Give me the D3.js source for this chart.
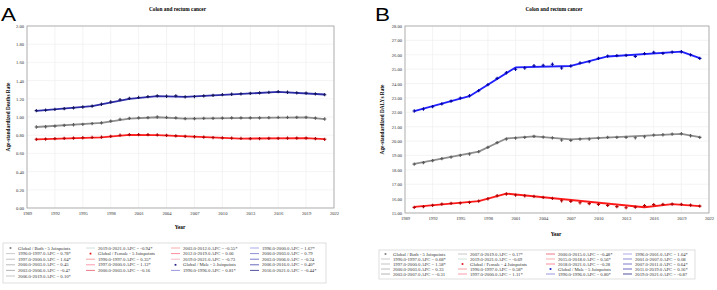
<!DOCTYPE html>
<html>
<head>
<meta charset="utf-8">
<script src="https://cdn.jsdelivr.net/npm/d3@7"></script>
<style>
  body { margin: 0; background: #fff; }
  svg { display: block; }
</style>
</head>
<body>
<div class="chart"></div>
<script>
// years of observation
var years = d3.range(1990, 2022);
var xTickYears = [1989, 1992, 1995, 1998, 2001, 2004, 2007, 2010, 2013, 2016, 2019, 2022];

// Panel A: age-standardized deaths rate (observed)
var deathBoth = [0.890, 0.893, 0.900, 0.908, 0.915, 0.920, 0.928, 0.935, 0.955, 0.975, 0.985, 0.990,
  0.993, 1.000, 0.995, 0.990, 0.982, 0.982, 0.985, 0.985, 0.988, 0.990, 0.990, 0.990, 0.990, 0.992,
  0.995, 0.995, 0.996, 0.997, 0.988, 0.978];
var deathFemale = [0.755, 0.758, 0.762, 0.765, 0.768, 0.772, 0.775, 0.778, 0.788, 0.800, 0.806, 0.807,
  0.806, 0.803, 0.798, 0.793, 0.788, 0.783, 0.778, 0.774, 0.770, 0.767, 0.764, 0.762, 0.763, 0.765,
  0.766, 0.767, 0.768, 0.768, 0.762, 0.755];
var deathMale = [1.070, 1.075, 1.083, 1.092, 1.100, 1.110, 1.120, 1.140, 1.165, 1.190, 1.205, 1.215,
  1.225, 1.232, 1.228, 1.232, 1.222, 1.225, 1.232, 1.238, 1.245, 1.250, 1.255, 1.260, 1.265, 1.270,
  1.278, 1.272, 1.266, 1.262, 1.255, 1.245];

// Panel A: joinpoint fits
var deathBothJpYears = [1990, 1997, 2000, 2003, 2006, 2019, 2021];
var deathBothJpFit = [0.890, 0.935, 0.983, 0.997, 0.983, 0.996, 0.977];
var deathFemaleJpYears = [1990, 1997, 2000, 2003, 2012, 2019, 2021];
var deathFemaleJpFit = [0.755, 0.776, 0.803, 0.800, 0.763, 0.767, 0.756];
var deathMaleJpYears = [1990, 1996, 2000, 2003, 2006, 2016, 2021];
var deathMaleJpFit = [1.068, 1.120, 1.200, 1.230, 1.222, 1.275, 1.247];

// Panel B: age-standardized DALYs rate (observed)
var dalyBoth = [18.40, 18.50, 18.64, 18.78, 18.89, 19.01, 19.10, 19.26, 19.56, 19.89, 20.14, 20.21,
  20.26, 20.33, 20.28, 20.23, 20.07, 20.05, 20.14, 20.14, 20.21, 20.26, 20.26, 20.26, 20.23, 20.30,
  20.42, 20.44, 20.49, 20.51, 20.37, 20.26];
var dalyFemale = [15.39, 15.44, 15.53, 15.62, 15.67, 15.69, 15.74, 15.83, 15.99, 16.20, 16.32, 16.25,
  16.20, 16.15, 16.08, 16.01, 15.85, 15.81, 15.71, 15.65, 15.60, 15.53, 15.44, 15.37, 15.41, 15.51,
  15.58, 15.60, 15.62, 15.60, 15.55, 15.48];
var dalyMale = [22.09, 22.23, 22.39, 22.58, 22.78, 22.99, 23.15, 23.50, 23.92, 24.36, 24.75, 24.99,
  25.08, 25.24, 25.27, 25.34, 25.08, 25.22, 25.43, 25.52, 25.75, 25.91, 25.94, 25.96, 25.89, 26.08,
  26.17, 26.10, 26.19, 26.21, 26.00, 25.75];

// Panel B: joinpoint fits
var dalyBothJpYears = [1990, 1997, 2000, 2003, 2007, 2019, 2021];
var dalyBothJpFit = [18.42, 19.27, 20.18, 20.32, 20.12, 20.50, 20.28];
var dalyFemaleJpYears = [1990, 1997, 2000, 2015, 2018, 2021];
var dalyFemaleJpFit = [15.42, 15.82, 16.35, 15.40, 15.62, 15.48];
var dalyMaleJpYears = [1990, 1996, 2001, 2007, 2011, 2019, 2021];
var dalyMaleJpFit = [22.08, 23.12, 25.12, 25.22, 25.88, 26.22, 25.76];

// legend texts
var deathLegend = [
  "Global / Both - 5 Joinpoints", "1990.0-1997.0 APC = 0.78*", "1997.0-2000.0 APC = 1.64*",
  "2000.0-2003.0 APC = 0.45", "2003.0-2006.0 APC = -0.47", "2006.0-2019.0 APC = 0.10*",
  "2019.0-2021.0 APC = -0.94*",
  "Global / Female - 5 Joinpoints", "1990.0-1997.0 APC = 0.35*", "1997.0-2000.0 APC = 1.12*",
  "2000.0-2003.0 APC = -0.16", "2003.0-2012.0 APC = -0.55*", "2012.0-2019.0 APC = 0.06",
  "2019.0-2021.0 APC = -0.73",
  "Global / Male - 5 Joinpoints", "1990.0-1996.0 APC = 0.81*", "1996.0-2000.0 APC = 1.67*",
  "2000.0-2003.0 APC = 0.79", "2003.0-2006.0 APC = -0.24", "2006.0-2016.0 APC = 0.40*",
  "2016.0-2021.0 APC = -0.44*"
];
var dalyLegend = [
  "Global / Both - 5 Joinpoints", "1990.0-1997.0 APC = 0.68*", "1997.0-2000.0 APC = 1.58*",
  "2000.0-2003.0 APC = 0.33", "2003.0-2007.0 APC = -0.31", "2007.0-2019.0 APC = 0.17*",
  "2019.0-2021.0 APC = -0.69",
  "Global / Female - 4 Joinpoints", "1990.0-1997.0 APC = 0.58*", "1997.0-2000.0 APC = 1.11*",
  "2000.0-2015.0 APC = -0.48*", "2015.0-2018.0 APC = 0.56*", "2018.0-2021.0 APC = -0.28",
  "Global / Male - 5 Joinpoints", "1990.0-1996.0 APC = 0.80*", "1996.0-2001.0 APC = 1.64*",
  "2001.0-2007.0 APC = 0.08", "2007.0-2011.0 APC = 0.64*", "2011.0-2019.0 APC = 0.16*",
  "2019.0-2021.0 APC = -0.87"
];

// segment shades for the legend (both, female, male)
var segShades = [
  ["#c4c4c4", "#bcbcbc", "#b4b4b4", "#ababab", "#c0c0c0", "#c8dcd6"],
  ["#f59a9a", "#ff8fa0", "#e86a78", "#f4a4a4", "#ff7f8f", "#f2b4bc"],
  ["#8d8dd8", "#a4a4e6", "#8282d0", "#6c6cc4", "#5858b4", "#3d3d94"]
];

var svg = d3.select(".chart").append("svg")
  .attr("width", 717)
  .attr("height", 290);

var serif = "'Liberation Serif', 'Times New Roman', serif";

function drawPanel(p) {
  var g = svg.append("g");

  var x = d3.scaleLinear().domain([1989, 2022]).range([p.left, p.right]);
  var y = d3.scaleLinear().domain(p.yDomain).range([p.bottom, p.top]);

  // grid
  g.selectAll(".vgrid").data(xTickYears).enter().append("line")
    .attr("x1", function(d) { return x(d); }).attr("x2", function(d) { return x(d); })
    .attr("y1", p.top).attr("y2", p.bottom)
    .style("stroke", "#ececec").style("stroke-width", 0.6);
  g.selectAll(".hgrid").data(p.yTicks).enter().append("line")
    .attr("x1", p.left).attr("x2", p.right)
    .attr("y1", function(d) { return y(d); }).attr("y2", function(d) { return y(d); })
    .style("stroke", "#ececec").style("stroke-width", 0.6);

  // axes
  var ax = g.append("g")
    .attr("transform", "translate(0," + p.bottom + ")")
    .call(d3.axisBottom(x).tickValues(xTickYears).tickFormat(d3.format("d")).tickSize(0).tickPadding(4));
  var ay = g.append("g")
    .attr("transform", "translate(" + p.left + ",0)")
    .call(d3.axisLeft(y).tickValues(p.yTicks).tickFormat(d3.format(".2f")).tickSize(0).tickPadding(3));
  [ax, ay].forEach(function(a) {
    a.select(".domain").remove();
    a.selectAll("text").style("font-family", serif).style("font-size", "4.6px").style("fill", "#333");
  });

  // frame
  g.append("rect")
    .attr("x", p.left).attr("y", p.top)
    .attr("width", p.right - p.left).attr("height", p.bottom - p.top)
    .style("fill", "none").style("stroke", "#a0a0a0").style("stroke-width", 0.8);

  // joinpoint lines + observed points
  var line = d3.line()
    .x(function(d) { return x(d[0]); })
    .y(function(d) { return y(d[1]); });

  p.series.forEach(function(s) {
    var fit = s.jpYears.map(function(yr, i) { return [yr, s.jpFit[i]]; });
    g.append("path")
      .datum(fit)
      .attr("d", line)
      .style("fill", "none")
      .style("stroke", s.color)
      .style("stroke-width", 1.8)
      .style("stroke-linejoin", "round");

    g.selectAll(null)
      .data(s.obs)
      .enter()
      .append("path")
      .attr("transform", function(d, i) { return "translate(" + x(years[i]) + "," + y(d) + ")"; })
      .attr("d", d3.symbol().type(d3.symbolCross).size(6))
      .style("fill", s.mark);
  });

  // title and axis labels
  svg.append("text")
    .attr("x", (p.left + p.right) / 2 - 3).attr("y", 11)
    .attr("text-anchor", "middle")
    .style("font-family", serif).style("font-size", "5.3px").style("font-weight", "bold")
    .text("Colon and rectum cancer");

  svg.append("text")
    .attr("transform", "translate(" + p.yLabelX + "," + ((p.top + p.bottom) / 2) + ") rotate(-90)")
    .attr("text-anchor", "middle")
    .style("font-family", serif).style("font-size", "5.3px").style("font-weight", "bold")
    .text(p.yLabel);

  svg.append("text")
    .attr("x", p.xLabelX).attr("y", p.xLabelY)
    .attr("text-anchor", "middle")
    .style("font-family", serif).style("font-size", "5.3px").style("font-weight", "bold")
    .text("Year");

  // panel tag, a bit wider than plain Arial
  svg.append("text")
    .attr("transform", "translate(" + p.tagX + ",21) scale(1.25,1)")
    .style("font-family", "'Liberation Sans', Arial, sans-serif").style("font-size", "18px")
    .text(p.tag);

  // legend
  var lg = p.legend;
  svg.append("rect")
    .attr("x", lg.box[0]).attr("y", lg.box[1])
    .attr("width", lg.box[2]).attr("height", lg.box[3])
    .style("fill", "#fff").style("stroke", "#d0d0d0").style("stroke-width", 0.7);

  // column / row of every legend item from the per-column counts
  var slots = [];
  lg.colCounts.forEach(function(n, c) {
    for (var r = 0; r < n; r++) slots.push([c, r]);
  });

  var sIdx = -1, segIdx = 0;
  lg.labels.forEach(function(t, i) {
    var cx = lg.cols[slots[i][0]], cy = lg.y0 + slots[i][1] * lg.step;
    if (t.indexOf("Global") === 0) {
      sIdx++; segIdx = 0;
      svg.append("path")
        .attr("transform", "translate(" + (cx + 4.5) + "," + cy + ")")
        .attr("d", d3.symbol().type(d3.symbolSquare).size(3))
        .style("fill", p.series[sIdx].legendMark);
    } else {
      svg.append("line")
        .attr("x1", cx).attr("x2", cx + 9)
        .attr("y1", cy).attr("y2", cy)
        .style("stroke", segShades[sIdx][segIdx])
        .style("stroke-width", 0.9);
      segIdx++;
    }
    svg.append("text")
      .attr("x", cx + 12).attr("y", cy)
      .attr("dy", "0.35em")
      .style("font-family", serif).style("font-size", "4.7px").style("fill", "#333")
      .text(t);
  });
}

drawPanel({
  tag: "A", tagX: 1,
  left: 27, right: 334, top: 26, bottom: 208,
  yDomain: [0, 2], yTicks: d3.range(0, 2.01, 0.2),
  yLabel: "Age-standardized Deaths Rate", yLabelX: 10,
  xLabelX: 180, xLabelY: 229,
  series: [
    { obs: deathBoth, jpYears: deathBothJpYears, jpFit: deathBothJpFit, color: "#8e8e8e", mark: "#5a5a5a", legendMark: "#777" },
    { obs: deathFemale, jpYears: deathFemaleJpYears, jpFit: deathFemaleJpFit, color: "#ff2020", mark: "#b00000", legendMark: "#e01010" },
    { obs: deathMale, jpYears: deathMaleJpYears, jpFit: deathMaleJpFit, color: "#2c2ca8", mark: "#14145e", legendMark: "#1c1c80" }
  ],
  legend: { labels: deathLegend, colCounts: [6, 5, 5, 5], cols: [6, 86, 171, 250], y0: 248, step: 5.6, box: [3, 243, 323, 40] }
});

drawPanel({
  tag: "B", tagX: 375,
  left: 405, right: 709, top: 26, bottom: 213,
  yDomain: [15, 28], yTicks: d3.range(15, 28.01, 1),
  yLabel: "Age-standardized DALYs Rate", yLabelX: 384,
  xLabelX: 556, xLabelY: 236,
  series: [
    { obs: dalyBoth, jpYears: dalyBothJpYears, jpFit: dalyBothJpFit, color: "#8e8e8e", mark: "#5a5a5a", legendMark: "#777" },
    { obs: dalyFemale, jpYears: dalyFemaleJpYears, jpFit: dalyFemaleJpFit, color: "#ff1a1a", mark: "#b00000", legendMark: "#e01010" },
    { obs: dalyMale, jpYears: dalyMaleJpYears, jpFit: dalyMaleJpFit, color: "#2020ff", mark: "#0000a0", legendMark: "#1010c0" }
  ],
  legend: { labels: dalyLegend, colCounts: [5, 5, 5, 5], cols: [381, 458, 546, 623], y0: 254, step: 5, box: [379, 250, 316, 29] }
});
</script>
</body>
</html>
